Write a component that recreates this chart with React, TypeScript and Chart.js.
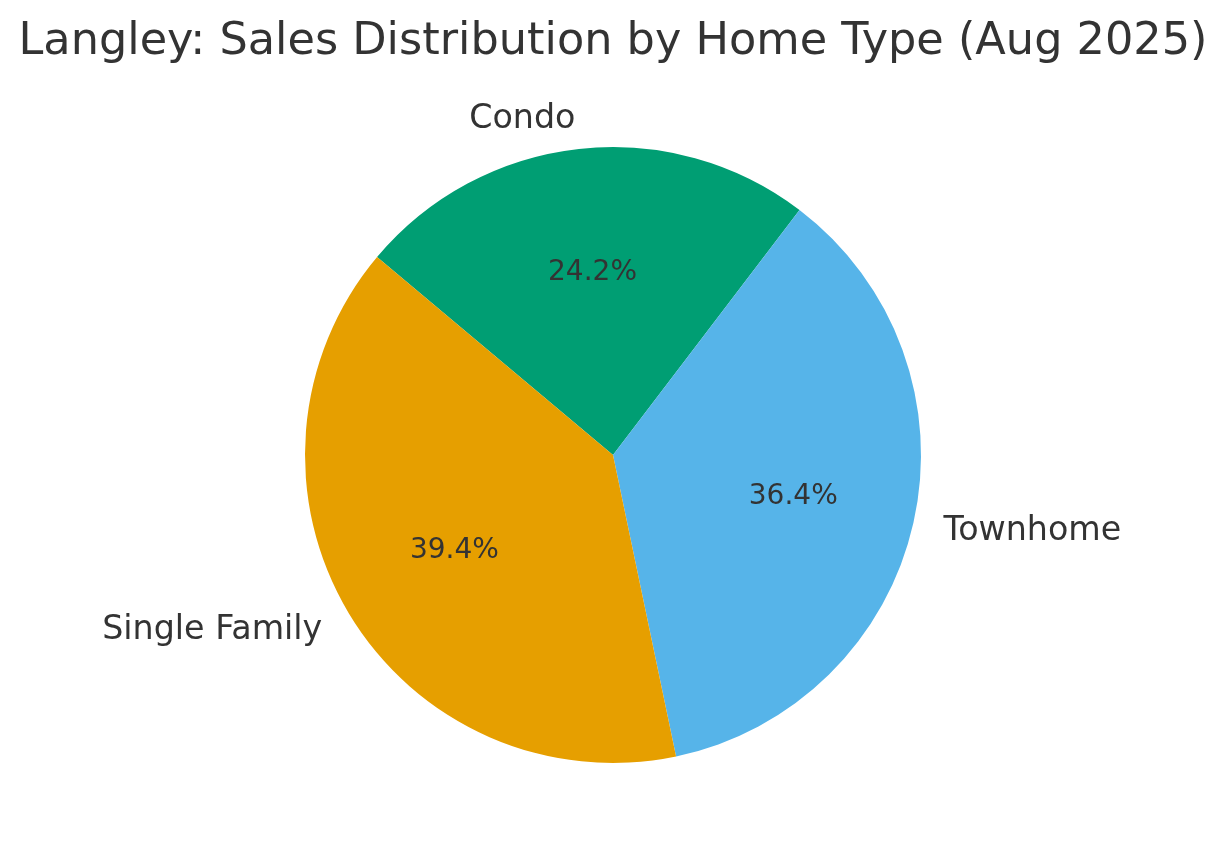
import React, { useEffect, useRef } from "react";
import { Chart, registerables } from "chart.js";

Chart.register(...registerables);

const TITLE = "Langley: Sales Distribution by Home Type (Aug 2025)";
const categories = ["Single Family", "Townhome", "Condo"];
const salesCounts = [13, 12, 8];
const sliceColors = ["#E69F00", "#56B4E9", "#009E73"];

const TEXT_COLOR = "#333333";
const FONT = '"DejaVu Sans", sans-serif';

const labelPlugin = {
  id: "pieLabels",
  afterDraw(chart: any) {
    const ctx = chart.ctx as CanvasRenderingContext2D;
    const meta = chart.getDatasetMeta(0);
    const data = chart.data.datasets[0].data as number[];
    const labels = chart.data.labels as string[];
    const total = data.reduce((a, b) => a + b, 0);
    ctx.save();
    ctx.fillStyle = TEXT_COLOR;
    meta.data.forEach((arc: any, i: number) => {
      const p = arc.getProps(["x", "y", "startAngle", "endAngle", "outerRadius"], true);
      const mid = (p.startAngle + p.endAngle) / 2;
      const c = Math.cos(mid);
      const s = Math.sin(mid);
      // category label
      ctx.font = `33.3px ${FONT}`;
      ctx.textBaseline = "middle";
      ctx.textAlign = c < 0 ? "right" : "left";
      ctx.fillText(labels[i], p.x + 1.1 * p.outerRadius * c, p.y + 1.1 * p.outerRadius * s + 1.5);
      // percentage
      ctx.font = `28px ${FONT}`;
      ctx.textAlign = "center";
      const pct = ((data[i] / total) * 100).toFixed(1) + "%";
      ctx.fillText(pct, p.x + 0.6 * p.outerRadius * c, p.y + 0.6 * p.outerRadius * s + 1);
    });
    // title
    ctx.font = `44.6px ${FONT}`;
    ctx.textAlign = "center";
    ctx.textBaseline = "alphabetic";
    ctx.fillText(TITLE, chart.width / 2, 54);
    ctx.restore();
  },
};

export default function App() {
  const canvasRef = useRef<HTMLCanvasElement | null>(null);

  useEffect(() => {
    document.body.style.margin = "0";
    const canvas = canvasRef.current;
    if (!canvas) return;
    // Chart.js draws clockwise; matplotlib draws counter-clockwise -> reverse order
    const labels = [...categories].reverse();
    const values = [...salesCounts].reverse();
    const colors = [...sliceColors].reverse();
    const chart = new Chart(canvas, {
      type: "pie",
      data: {
        labels,
        datasets: [
          {
            data: values,
            backgroundColor: colors,
            borderWidth: 0,
            hoverOffset: 0,
          },
        ],
      },
      options: {
        animation: false,
        responsive: true,
        maintainAspectRatio: false,
        rotation: -50,
        layout: { padding: { top: 147, bottom: 97, left: 0, right: 0 } },
        plugins: {
          legend: { display: false },
          tooltip: { enabled: false },
          title: { display: false },
        },
        events: [],
      },
      plugins: [labelPlugin],
    });
    return () => chart.destroy();
  }, []);

  return (
    <div style={{ position: "relative", width: 1226, height: 860, background: "#ffffff" }}>
      <canvas ref={canvasRef} />
    </div>
  );
}
